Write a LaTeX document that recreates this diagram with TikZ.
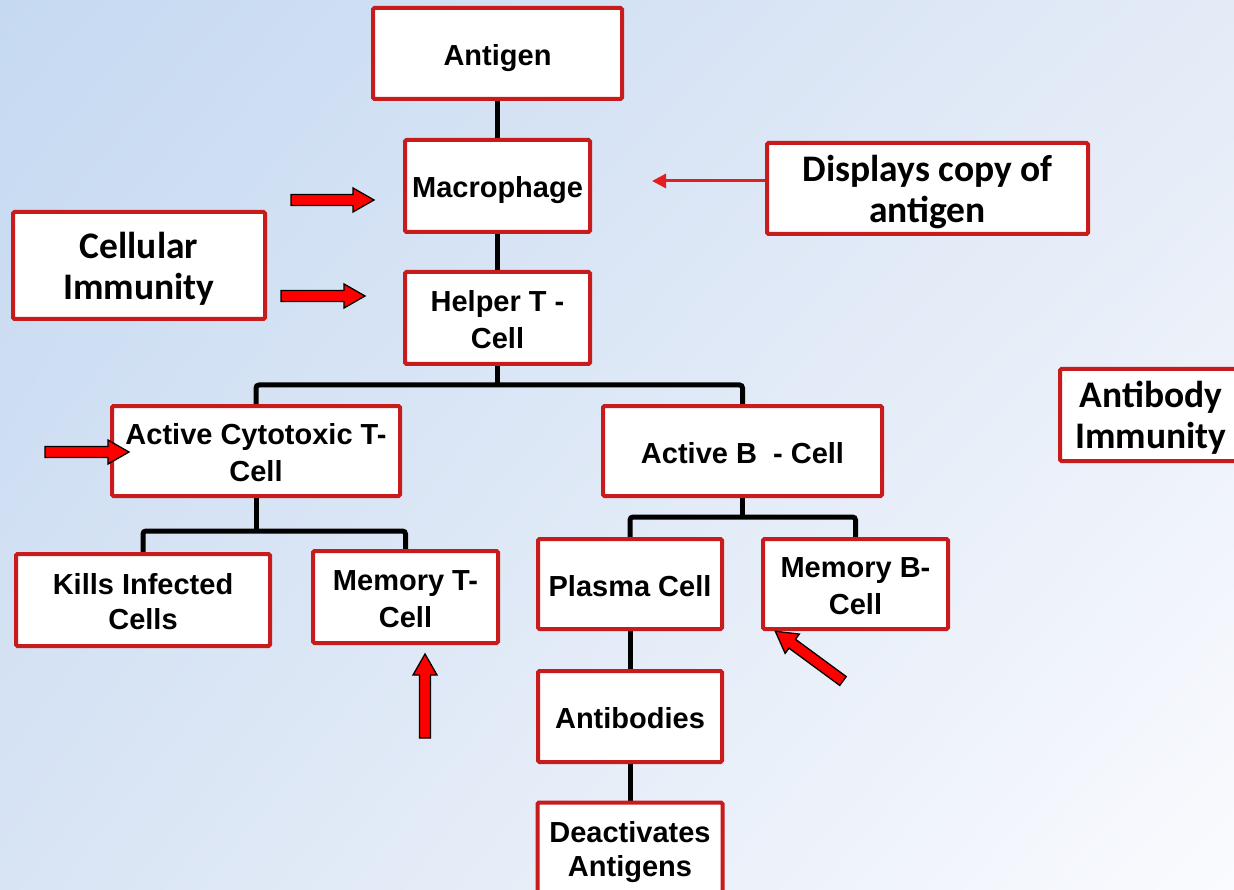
\documentclass[tikz,border=0pt]{standalone}
\usepackage{fontspec}
\setsansfont{Liberation Sans}
\newfontfamily\calib{Carlito}
\usetikzlibrary{arrows.meta,shadings}
\pgfdeclarelayer{back}
\pgfdeclarelayer{bg}
\pgfsetlayers{back,bg,main}
\definecolor{boxred}{RGB}{200,28,28}
\definecolor{thinred}{RGB}{226,30,30}
\definecolor{bgA}{RGB}{197,217,241}
\definecolor{bgB}{RGB}{228,235,247}
\definecolor{bgC}{RGB}{216,228,244}
\definecolor{bgD}{RGB}{250,251,254}
\newcommand\strA{\rule[-5pt]{0pt}{34.3pt}}
\newcommand\strC{\rule[-5.5pt]{0pt}{38pt}}
\newcommand\redarrow[3]{%
  \begin{scope}[shift={#1}, rotate=#2]
    \draw[barrow] (0,-5.5) -- ({#3-21},-5.5) -- ({#3-21},-12) -- (#3,0) -- ({#3-21},12) -- ({#3-21},5.5) -- (0,5.5) -- cycle;
  \end{scope}}
\begin{document}
\begin{tikzpicture}[x=1pt,y=-1pt,
  box/.style={draw=boxred, line width=4pt, fill=white, rounded corners=1.5pt,
    align=center, inner sep=0pt, font=\sffamily\bfseries\fontsize{29}{34.5}\selectfont},
  cbox/.style={box, font=\calib\bfseries\fontsize{37.5}{41}\selectfont},
  conn/.style={draw=black, line width=5pt, rounded corners=3pt},
  barrow/.style={draw=black, fill=red, line width=1.3pt, line join=miter},
  thin/.style={draw=thinred, line width=3pt, -{Triangle[length=14pt,width=14pt]}}]
\useasboundingbox (0,0) rectangle (1234,890);
\begin{pgfonlayer}{back}
\shade[upper left=bgA, upper right=bgB, lower left=bgC, lower right=bgD] (0,0) rectangle (1234,890);
\end{pgfonlayer}

\node[box, minimum width=249pt, minimum height=91pt] (antigen) at (497.5,53.5) {Antigen\strA};
\node[box, minimum width=185pt, minimum height=92pt] (macro) at (497.5,186) {Macrophage\strA};
\node[cbox, minimum width=321pt, minimum height=91pt] (disp) at (927.5,188.5) {Displays copy of\strC\\antigen\strC};
\node[cbox, minimum width=252pt, minimum height=107pt] (cellim) at (139,265.5) {Cellular\strC\\Immunity\strC};
\node[box, minimum width=185pt, minimum height=92pt] (helper) at (497.5,318) {Helper T -\strA\\Cell\strA};
\node[box, minimum width=288pt, minimum height=90pt] (cyto) at (256,451) {Active Cytotoxic T-\strA\\Cell\strA};
\node[box, minimum width=279pt, minimum height=90pt] (actB) at (742.5,451) {Active B\ \ - Cell\strA};
\node[cbox, minimum width=182pt, minimum height=92pt] (abim) at (1151,415) {Antibody\strC\\Immunity\strC};
\node[box, minimum width=254pt, minimum height=92pt] (kills) at (143,600) {Kills Infected\strA\\Cells\strA};
\node[box, minimum width=185pt, minimum height=92pt] (memT) at (405.5,597) {Memory T-\strA\\Cell\strA};
\node[box, minimum width=184pt, minimum height=90pt] (plasma) at (630,584) {Plasma Cell\strA};
\node[box, minimum width=185pt, minimum height=90pt] (memB) at (855.5,584) {Memory B-\strA\\Cell\strA};
\node[box, minimum width=184pt, minimum height=91pt] (abod) at (630,716.5) {Antibodies\strA};
\node[box, minimum width=185pt, minimum height=91pt] (deact) at (630,848) {Deactivates\strA\\Antigens\strA};

\coordinate (hb) at (497.5,385);
\coordinate (cb) at (256,531);
\coordinate (bb) at (742.5,517);
\coordinate (thinEnd) at (652,181);

\begin{pgfonlayer}{bg}
\draw[conn] (antigen) -- (macro);
\draw[conn] (macro) -- (helper);
\draw[conn] (helper) -- (hb);
\draw[conn] (cyto) |- (hb) -| (actB);
\draw[conn] (cyto) -- (cb);
\draw[conn] (kills) |- (cb) -| (memT);
\draw[conn] (actB) -- (bb);
\draw[conn] (plasma) |- (bb) -| (memB);
\draw[conn] (plasma) -- (abod);
\draw[conn] (abod) -- (deact);
\end{pgfonlayer}

\draw[thin] (disp.west |- thinEnd) -- (thinEnd);

\redarrow{(291,200)}{0}{83}
\redarrow{(281,296)}{0}{84}
\redarrow{(45,452)}{0}{84}
\redarrow{(425,738)}{90}{84}
\redarrow{(843,681)}{143.7}{84}
\end{tikzpicture}
\end{document}
